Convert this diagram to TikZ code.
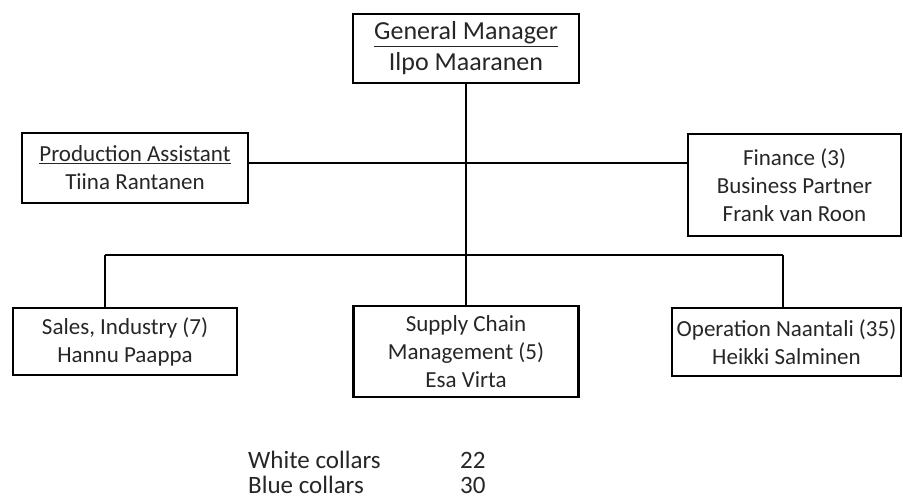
\documentclass[tikz,border=0pt]{standalone}
\usepackage{fontspec}
\setmainfont{Carlito}
\usepackage{tikz}

\tikzset{
  unitbox/.style={draw, line width=2.4pt, rectangle, align=center, text=black!85,
    font=\fontsize{23}{28}\selectfont, inner sep=0pt},
  orgline/.style={line width=2.4pt},
  countlabel/.style={anchor=base west, inner sep=0pt, text=black!85,
    font=\fontsize{25}{30}\selectfont}
}

\begin{document}
\begin{tikzpicture}[x=1pt,y=-1pt]
    % Fix the page size
    \useasboundingbox (0,0) rectangle (903,501);

    % Draw the boxes
    \node[unitbox, minimum width=226pt, minimum height=69pt,
      font=\fontsize{26}{31}\selectfont] (gm) at (466,48.5)
      {\underline{General Manager}\\Ilpo Maaranen};
    \node[unitbox, minimum width=226pt, minimum height=70pt] (pa) at (135,168)
      {\underline{Production Assistant}\\Tiina Rantanen};
    \node[unitbox, minimum width=213pt, minimum height=102pt] (fin) at (794.5,185)
      {Finance (3)\\Business Partner\\Frank van Roon};
    \node[unitbox, minimum width=224pt, minimum height=67pt] (sales) at (125,341.5)
      {Sales, Industry (7)\\Hannu Paappa};
    \node[unitbox, minimum width=225pt, minimum height=91pt] (scm) at (466,351.5)
      {Supply Chain\\Management (5)\\Esa Virta};
    \node[unitbox, minimum width=229pt, minimum height=68pt] (op) at (786.5,342)
      {Operation Naantali (35)\\Heikki Salminen};

    % Draw the lines
    \coordinate (busL) at (105,255);
    \coordinate (busR) at (783,255);
    \draw[orgline] (gm.south) -- (scm.north);
    \draw[orgline] ([yshift=5pt]pa.east) -- ([yshift=5pt]pa.east -| fin.west);
    \draw[orgline] (busL) -- (busR);
    \draw[orgline] (busL) -- (busL |- sales.north);
    \draw[orgline] (busR) -- (busR |- op.north);

    % Head counts
    \node[countlabel] (white) at (248,468) {White collars};
    \node[countlabel] (whiten) at (460,468) {22};
    \node[countlabel] (blue) at (248,493) {Blue collars};
    \node[countlabel] (bluen) at (460,493) {30};
\end{tikzpicture}
\end{document}
